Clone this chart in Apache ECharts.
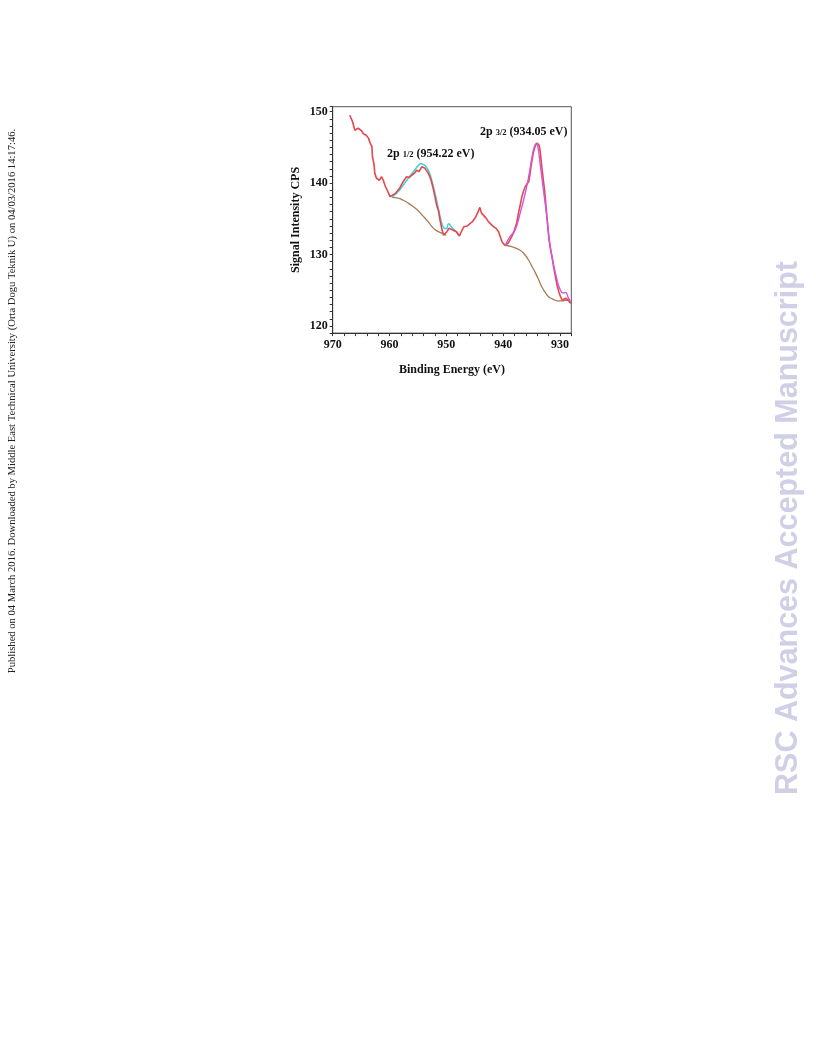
<!DOCTYPE html>
<html>
<head>
<meta charset="utf-8">
<script src="https://cdn.jsdelivr.net/npm/echarts@6/dist/echarts.min.js"></script>
<style>
html,body{margin:0;padding:0;background:#fff;}
#chart{width:816px;height:1056px;}
</style>
</head>
<body>
<div id="chart"></div>
<script>
// Measured spectrum (Binding Energy eV, Signal Intensity CPS)
const rawX = [967.0,966.5,966.1,965.8,965.5,965.2,964.9,964.6,964.1,963.7,963.4,963.1,963.0,962.7,962.6,962.3,961.8,961.4,961.1,960.8,960.4,959.9,959.6,958.9,958.2,957.6,957.0,956.5,956.1,955.6,955.2,954.8,954.3,953.8,953.5,953.2,952.9,952.6,952.3,952.0,951.7,951.4,951.1,950.8,950.5,950.2,949.9,949.5,948.8,948.2,947.7,947.3,946.9,946.3,945.9,945.4,945.1,944.8,944.4,944.1,943.8,943.5,943.0,942.6,942.2,941.7,941.3,940.8,940.5,940.2,939.7,939.1,938.5,938.1,937.9,937.6,937.3,937.0,936.7,936.4,936.1,935.8,935.5,935.3,935.1,934.9,934.7,934.5,934.3,934.1,933.9,933.7,933.5,933.35,933.2,932.95,932.7,932.5,932.3,932.1,931.9,931.65,931.4,931.1,930.8,930.5,930.2,929.9,929.6,929.3,929.0,928.7,928.5,928.3,928.0];
const rawY = [149.5,148.6,147.4,147.2,147.7,147.9,147.3,146.9,146.7,146.3,145.6,145.1,143.7,142.5,141.4,140.7,140.4,140.9,140.4,139.7,139.0,138.1,137.9,138.6,139.3,140.2,140.9,140.8,141.1,141.4,141.8,141.6,142.3,142.1,141.9,141.4,140.9,140.2,139.2,138.1,136.9,136.2,134.8,133.6,132.7,132.6,133.2,133.7,133.4,133.2,132.6,133.3,133.9,134.0,134.3,134.6,134.5,135.3,136.0,136.6,135.8,135.9,135.1,134.6,134.3,133.9,133.7,133.2,132.5,131.8,131.3,131.6,132.5,133.2,133.7,134.5,135.8,136.9,138.1,138.9,139.5,139.9,140.2,141.1,142.3,143.3,144.2,144.8,145.3,145.6,145.8,145.4,144.6,143.5,142.3,140.6,139.0,137.2,135.3,133.6,132.0,130.7,129.7,128.2,126.9,125.7,124.8,124.1,123.6,123.7,123.9,123.7,123.6,123.3,123.2];

// 2p 1/2 fitted component
const fit12X = [959.6,958.5,957.5,956.5,955.5,955.0,954.5,954.0,953.5,953.0,952.5,952.0,951.5,951.0,950.5,950.0,949.6,949.2,948.8,948.3,947.9];
const fit12Y = [138.0,138.8,139.8,140.9,141.9,142.4,142.7,142.6,142.2,141.5,140.2,138.6,136.8,135.0,133.8,133.6,134.3,134.0,133.6,133.2,132.8];

// 2p 3/2 fitted component
const fit32X = [939.6,938.8,937.9,937.0,936.1,935.5,934.9,934.5,934.2,933.9,933.5,932.9,932.3,931.9,931.4,930.5,929.9,929.4,929.0,928.5,928.1];
const fit32Y = [131.3,132.5,133.4,135.8,138.6,140.9,143.7,145.1,145.5,145.1,142.8,139.0,135.3,132.2,129.7,126.4,125.0,124.6,124.7,123.9,123.4];

// Background (two segments)
const bgAX = [959.6,958.5,957.6,956.7,955.8,954.9,954.0,953.1,952.3,951.4,950.5,950.0];
const bgAY = [138.0,137.9,137.6,137.2,136.7,136.1,135.3,134.5,133.7,133.2,132.9,132.7];
const bgBX = [939.7,938.5,937.0,936.2,935.5,934.9,934.3,933.7,933.2,932.6,932.0,931.4,930.8,930.2,929.6,929.0,928.5];
const bgBY = [131.3,131.1,130.6,130.0,129.2,128.3,127.4,126.4,125.5,124.7,124.1,123.8,123.6,123.5,123.5,123.6,123.6];

const xTickLabels = [970,960,950,940,930];
const yTickLabels = [120,130,140,150];

const pairs = (xs, ys) => xs.map((x, i) => [x, ys[i]]);
const serif = '"Liberation Serif","Times New Roman",serif';

const chart = echarts.init(document.getElementById('chart'), null, {renderer: 'canvas'});
chart.setOption({
  animation: false,
  backgroundColor: '#fff',
  grid: {left: 332.7, right: 244.7, top: 106.7, bottom: 722.9, show: true, borderColor: '#555', borderWidth: 1, backgroundColor: 'transparent'},
  xAxis: {
    type: 'value', inverse: true, min: 928, max: 970, interval: 2,
    name: 'Binding Energy (eV)', nameLocation: 'middle', nameGap: 31,
    nameTextStyle: {fontFamily: serif, fontWeight: 'bold', fontSize: 12, color: '#111'},
    axisLine: {show: true, onZero: false, lineStyle: {color: '#333', width: 1}},
    axisTick: {show: true, inside: false, length: 3, lineStyle: {color: '#333'}},
    splitLine: {show: false},
    axisLabel: {
      fontFamily: serif, fontWeight: 'bold', fontSize: 12, color: '#111', margin: 6,
      formatter: v => (xTickLabels.indexOf(Math.round(v)) >= 0 && Math.abs(v - Math.round(v)) < 1e-6) ? String(Math.round(v)) : ''
    }
  },
  yAxis: {
    type: 'value', min: 119, max: 150.7, interval: 1,
    name: 'Signal Intensity CPS', nameLocation: 'middle', nameGap: 31,
    nameTextStyle: {fontFamily: serif, fontWeight: 'bold', fontSize: 12, color: '#111'},
    axisLine: {show: true, onZero: false, lineStyle: {color: '#333', width: 1}},
    axisTick: {show: true, inside: false, length: 3, lineStyle: {color: '#333'}},
    splitLine: {show: false},
    axisLabel: {
      fontFamily: serif, fontWeight: 'bold', fontSize: 12, color: '#111', margin: 5,
      formatter: v => (yTickLabels.indexOf(Math.round(v)) >= 0 && Math.abs(v - Math.round(v)) < 1e-6) ? String(Math.round(v)) : ''
    }
  },
  series: [
    {type: 'line', name: 'Background', data: pairs(bgAX, bgAY), showSymbol: false, smooth: true, lineStyle: {color: '#a67c55', width: 1.3}},
    {type: 'line', name: 'Background2', data: pairs(bgBX, bgBY), showSymbol: false, smooth: true, lineStyle: {color: '#a67c55', width: 1.3}},
    {type: 'line', name: '2p1/2 fit', data: pairs(fit12X, fit12Y), showSymbol: false, smooth: true, lineStyle: {color: '#3fd0d6', width: 1.5}},
    {type: 'line', name: 'Spectrum', data: pairs(rawX, rawY), showSymbol: false, lineStyle: {color: '#e5474c', width: 1.6}},
    {type: 'line', name: '2p3/2 fit', data: pairs(fit32X, fit32Y), showSymbol: false, smooth: true, lineStyle: {color: '#d055e0', width: 1.4}}
  ],
  graphic: [
    {type: 'text', x: 387, y: 153.5, style: {
      text: '{a|2p }{s|1/2}{a| (954.22 eV)}', align: 'left', verticalAlign: 'middle',
      rich: {a: {fontFamily: serif, fontWeight: 'bold', fontSize: 12, fill: '#111', color: '#111'},
             s: {fontFamily: serif, fontWeight: 'bold', fontSize: 8.5, fill: '#111', color: '#111', padding: [3, 0, 0, 0]}}
    }},
    {type: 'text', x: 480, y: 131.5, style: {
      text: '{a|2p }{s|3/2}{a| (934.05 eV)}', align: 'left', verticalAlign: 'middle',
      rich: {a: {fontFamily: serif, fontWeight: 'bold', fontSize: 12, fill: '#111', color: '#111'},
             s: {fontFamily: serif, fontWeight: 'bold', fontSize: 8.5, fill: '#111', color: '#111', padding: [3, 0, 0, 0]}}
    }},
    {type: 'text', x: 12, y: 401, rotation: Math.PI / 2, style: {
      text: 'Published on 04 March 2016. Downloaded by Middle East Technical University (Orta Dogu Teknik U) on 04/03/2016 14:17:46.',
      font: '10.6px "Liberation Serif"', fill: '#222', align: 'center', verticalAlign: 'middle'
    }},
    {type: 'text', x: 789, y: 528, rotation: Math.PI / 2, style: {
      text: 'RSC Advances Accepted Manuscript',
      font: 'bold 30.5px "Liberation Sans", Arial, sans-serif', fill: '#cfd0e6', align: 'center', verticalAlign: 'middle'
    }}
  ]
});
</script>
</body>
</html>
